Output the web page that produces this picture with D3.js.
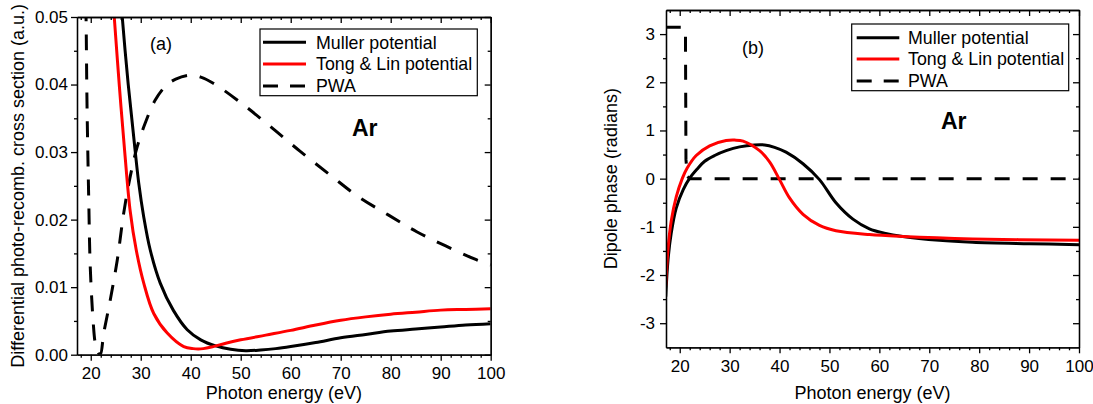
<!DOCTYPE html>
<html><head><meta charset="utf-8">
<script src="https://cdn.jsdelivr.net/npm/d3@7"></script>
<style>
body{margin:0;background:#fff}
svg{display:block}
text{font-family:"Liberation Sans",Arial,Helvetica,sans-serif;fill:#000}
</style>
</head><body>
<svg id="chart" width="1093" height="404"></svg>
<script>
// ---------------- data ----------------
const xDomain = [17.25, 100];
const xTicks = [20, 30, 40, 50, 60, 70, 80, 90, 100];
const xMinor = [18, 22, 24, 26, 28, 32, 34, 36, 38, 42, 44, 46, 48, 52, 54, 56, 58, 62, 64, 66, 68, 72, 74, 76, 78, 82, 84, 86, 88, 92, 94, 96, 98];
const yTicksA = [0, 0.01, 0.02, 0.03, 0.04, 0.05];
const yMinorA = [0.005, 0.015, 0.025, 0.035, 0.045];
const yTicksB = [-3, -2, -1, 0, 1, 2, 3];
const yMinorB = [-2.5, -1.5, -0.5, 0.5, 1.5, 2.5];
const legendLabels = ["Muller potential", "Tong & Lin potential", "PWA"];
const xTitle = "Photon energy (eV)";
const yTitleA = "Differential photo-recomb. cross section (a.u.)";
const yTitleB = "Dipole phase (radians)";

// (a) cross section: [energy eV, value a.u.]
const mullerA = [[25.5,0.058],[26.3,0.050],[27.5,0.040],[28.6,0.0322],[29.6,0.0254],[30.6,0.0204],[31.9,0.0155],[33.9,0.0106],[36.5,0.0066],[39.3,0.0037],[42,0.0022],[45,0.0013],[48,0.0008],[51,0.0006],[54,0.0007],[57,0.0009],[60,0.0012],[65,0.0018],[70,0.0025],[75,0.0030],[80,0.0035],[85,0.0038],[90,0.0041],[95,0.0044],[100,0.0046]];
const tongA = [[24.1,0.056],[24.7,0.050],[25.7,0.040],[26.8,0.030],[27.9,0.0212],[29.1,0.0155],[30.6,0.0106],[32.6,0.0061],[35.3,0.0032],[38.6,0.0012],[40.5,0.0009],[42.5,0.0009],[44.5,0.0012],[47,0.0017],[50,0.0022],[55,0.0029],[60,0.0036],[65,0.0044],[70,0.0051],[75,0.0056],[80,0.0060],[85,0.0063],[90,0.0066],[95,0.0067],[100,0.0068]];
const pwaA = [[18.9,0.056],[19.06,0.050],[19.26,0.0367],[19.6,0.0229],[19.9,0.013],[20.5,0.0047],[20.9,0.0017],[21.4,0.0004],[21.9,0.0],[22.6,0.0032],[23.9,0.0081],[25.3,0.014],[26.6,0.021],[27.9,0.0264],[29.3,0.0308],[30.9,0.0343],[32.9,0.0377],[35,0.0398],[37,0.0408],[39.9,0.0414],[42,0.0411],[44.5,0.0402],[50.2,0.0372],[55.9,0.0338],[61.9,0.0301],[67.9,0.0266],[73.5,0.0234],[79.5,0.0207],[85.2,0.0182],[91,0.0161],[97,0.0141],[100,0.0133]];

// (b) dipole phase: [energy eV, radians]
const mullerB = [[17.2,-2.45],[17.66,-1.68],[18.3,-1.13],[19.3,-0.61],[20.7,-0.23],[22,0.01],[23.5,0.2],[25,0.36],[27,0.48],[29.3,0.58],[32,0.66],[35,0.70],[37,0.70],[39,0.65],[41.3,0.55],[44.7,0.31],[48,-0.02],[51.3,-0.5],[54.7,-0.84],[58,-1.04],[61,-1.13],[64.7,-1.2],[72,-1.28],[78.7,-1.32],[90,-1.35],[100,-1.37]];
const tongB = [[17.2,-2.22],[17.66,-1.45],[18.3,-0.88],[19.3,-0.38],[20.5,0.0],[21.5,0.22],[23.3,0.48],[26,0.68],[29.3,0.79],[31,0.80],[32.7,0.78],[36,0.58],[38,0.35],[40,-0.02],[42,-0.4],[44.7,-0.74],[48,-0.97],[51.3,-1.08],[58,-1.16],[64.7,-1.2],[78.7,-1.25],[100,-1.28]];
const pwaB = [[17.2,3.1416],[20.9,3.1416],[21.15,3.0],[21.25,0.4],[21.5,0.05],[22.0,0],[100,0]];

// ---------------- drawing ----------------
const svg = d3.select("#chart");
const FONT = 17;
const LEG_FONT = 17.8;
const TITLE_FONT = 18;

function panel(cfg) {
  const x = d3.scaleLinear().domain(xDomain).range([cfg.left, cfg.right]);
  const y = d3.scaleLinear().domain(cfg.yDomain).range([cfg.bottom, cfg.top]);
  const g = svg.append("g");

  const clipId = "clip-" + cfg.name;
  svg.append("clipPath").attr("id", clipId).append("rect")
    .attr("x", cfg.left).attr("y", cfg.top)
    .attr("width", cfg.right - cfg.left).attr("height", cfg.bottom - cfg.top);

  const lineSmooth = d3.line().x(d => x(d[0])).y(d => y(d[1])).curve(d3.curveCatmullRom.alpha(0.5));
  const lineLin = d3.line().x(d => x(d[0])).y(d => y(d[1]));

  const curves = g.append("g").attr("clip-path", `url(#${clipId})`);
  curves.append("path").attr("d", (cfg.pwaLinear ? lineLin : lineSmooth)(cfg.pwa))
    .attr("fill", "none").attr("stroke", "#000").attr("stroke-width", 3)
    .attr("stroke-dasharray", cfg.dash);
  curves.append("path").attr("d", lineSmooth(cfg.muller))
    .attr("fill", "none").attr("stroke", "#000").attr("stroke-width", 3);
  curves.append("path").attr("d", lineSmooth(cfg.tong))
    .attr("fill", "none").attr("stroke", "#ff0000").attr("stroke-width", 3);

  const styleAxis = sel => {
    sel.selectAll("path.domain").attr("stroke", "#000").attr("stroke-width", 1.3);
    sel.selectAll(".tick line").attr("stroke", "#000").attr("stroke-width", 1.3);
    sel.selectAll(".tick text").attr("font-size", FONT).attr("font-family", '"Liberation Sans",Arial,sans-serif').attr("fill", "#000");
  };

  // bottom
  g.append("g").attr("transform", `translate(0,${cfg.bottom})`)
    .call(d3.axisBottom(x).tickValues(xTicks).tickSize(6).tickSizeOuter(0).tickPadding(6.5).tickFormat(d => String(d)))
    .call(styleAxis);
  g.append("g").attr("transform", `translate(0,${cfg.bottom})`)
    .call(d3.axisBottom(x).tickValues(xMinor).tickSize(3).tickSizeOuter(0).tickFormat(""))
    .call(styleAxis);
  // top (inward)
  g.append("g").attr("transform", `translate(0,${cfg.top})`)
    .call(d3.axisTop(x).tickValues(xTicks).tickSize(-6).tickSizeOuter(0).tickFormat(""))
    .call(styleAxis);
  g.append("g").attr("transform", `translate(0,${cfg.top})`)
    .call(d3.axisTop(x).tickValues(xMinor).tickSize(-3).tickSizeOuter(0).tickFormat(""))
    .call(styleAxis);
  // left
  g.append("g").attr("transform", `translate(${cfg.left},0)`)
    .call(d3.axisLeft(y).tickValues(cfg.yTicks).tickSize(6).tickSizeOuter(0).tickPadding(cfg.yPad).tickFormat(cfg.yFormat))
    .call(styleAxis);
  g.append("g").attr("transform", `translate(${cfg.left},0)`)
    .call(d3.axisLeft(y).tickValues(cfg.yMinor).tickSize(3).tickSizeOuter(0).tickFormat(""))
    .call(styleAxis);
  // right (inward)
  g.append("g").attr("transform", `translate(${cfg.right},0)`)
    .call(d3.axisRight(y).tickValues(cfg.yTicks).tickSize(-6).tickSizeOuter(0).tickFormat(""))
    .call(styleAxis);
  g.append("g").attr("transform", `translate(${cfg.right},0)`)
    .call(d3.axisRight(y).tickValues(cfg.yMinor).tickSize(-3).tickSizeOuter(0).tickFormat(""))
    .call(styleAxis);

  // titles
  g.append("text").attr("x", (cfg.left + cfg.right) / 2).attr("y", 399)
    .attr("text-anchor", "middle").attr("font-size", TITLE_FONT).text(xTitle);
  g.append("text").attr("transform", `translate(${cfg.yTitleX},${(cfg.top + cfg.bottom) / 2}) rotate(-90)`)
    .attr("text-anchor", "middle").attr("font-size", TITLE_FONT).text(cfg.yTitle);

  // panel label & element
  g.append("text").attr("x", cfg.tagX).attr("y", cfg.tagY).attr("font-size", 18).text(cfg.tag);
  g.append("text").attr("x", cfg.arX).attr("y", cfg.arY).attr("font-size", 23).attr("font-weight", "bold").text("Ar");

  // legend
  const L = cfg.legend;
  const lg = g.append("g");
  lg.append("rect").attr("x", L.x).attr("y", L.y).attr("width", L.w).attr("height", L.h)
    .attr("fill", "#fff").attr("stroke", "#000").attr("stroke-width", 1.2);
  const styles = [{c: "#000", d: null}, {c: "#ff0000", d: null}, {c: "#000", d: "15,12"}];
  legendLabels.forEach((lab, i) => {
    const yy = L.rows[i];
    lg.append("line").attr("x1", L.lx1).attr("x2", L.lx2).attr("y1", yy).attr("y2", yy)
      .attr("stroke", styles[i].c).attr("stroke-width", 3)
      .attr("stroke-dasharray", styles[i].d);
    lg.append("text").attr("x", L.tx).attr("y", yy).attr("dy", "0.36em")
      .attr("font-size", LEG_FONT).text(lab);
  });
}

panel({
  name: "a", left: 77, right: 490.7, top: 17, bottom: 354.7,
  yDomain: [0, 0.05], yTicks: yTicksA, yMinor: yMinorA, yFormat: d3.format(".2f"), yPad: 3,
  muller: mullerA, tong: tongA, pwa: pwaA, pwaLinear: false, dash: "16,13",
  yTitle: yTitleA, yTitleX: 24,
  tag: "(a)", tagX: 150, tagY: 50, arX: 352, arY: 136,
  legend: {x: 260, y: 29, w: 217.3, h: 66.7, lx1: 263, lx2: 306, tx: 316, rows: [42.3, 64, 86]}
});

panel({
  name: "b", left: 666, right: 1079, top: 10, bottom: 347.3,
  yDomain: [-3.5, 3.5], yTicks: yTicksB, yMinor: yMinorB, yFormat: d => String(d), yPad: 5,
  muller: mullerB, tong: tongB, pwa: pwaB, pwaLinear: true, dash: "15,13",
  yTitle: yTitleB, yTitleX: 617,
  tag: "(b)", tagX: 742, tagY: 54, arX: 941, arY: 129,
  legend: {x: 851.7, y: 24, w: 217, h: 66.7, lx1: 856.7, lx2: 899.3, tx: 908, rows: [37.7, 59, 81]}
});
</script>
</body></html>
